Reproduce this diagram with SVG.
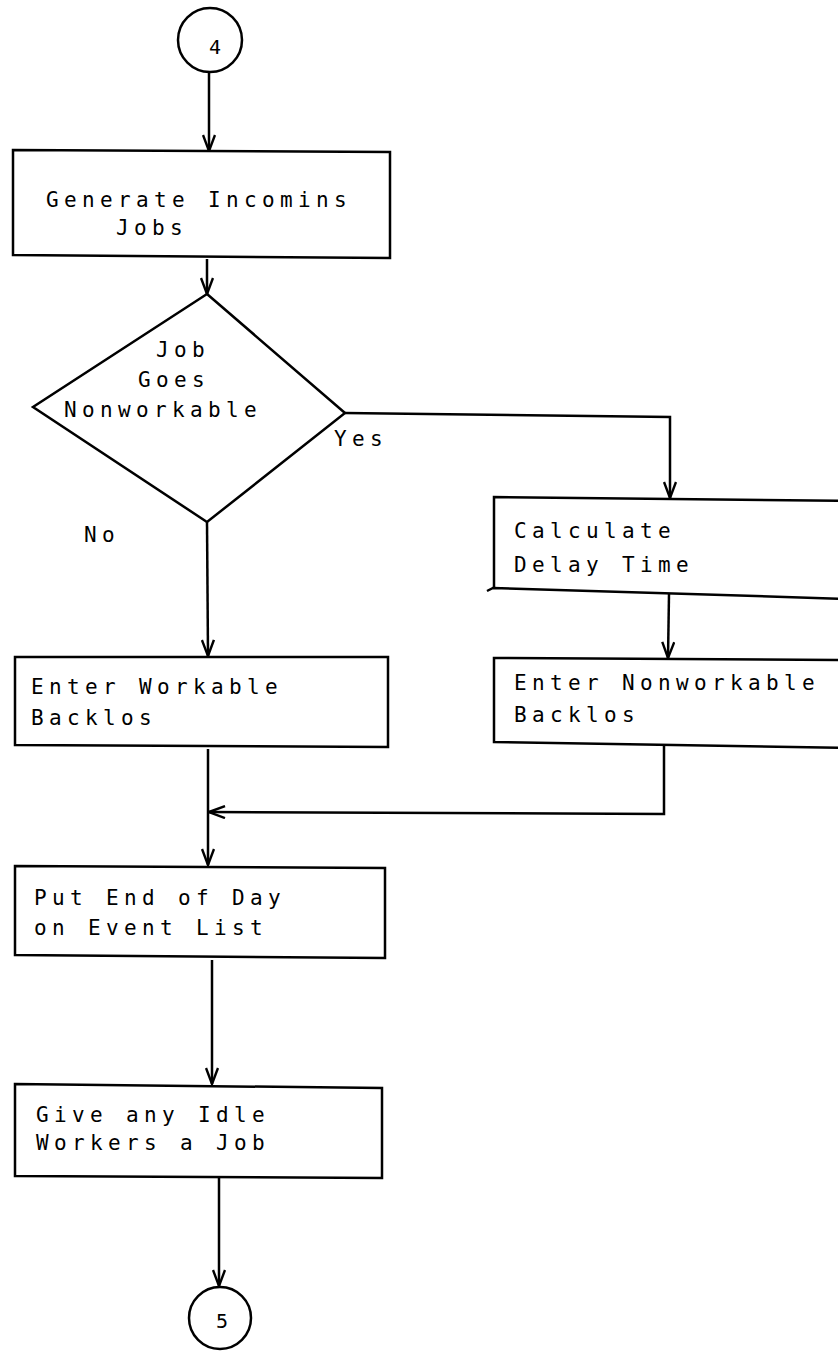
<svg xmlns="http://www.w3.org/2000/svg" width="838" height="1351" viewBox="0 0 838 1351">
  <style>
    .shape { fill: none; stroke: #000; stroke-width: 2.5; stroke-linejoin: miter; }
    .wire { fill: none; stroke: #000; stroke-width: 2.5; }
    .label { font-family: "DejaVu Sans Mono", "Liberation Mono", monospace; font-size: 21px; letter-spacing: 5.35px; fill: #000; }
    .num { font-family: "DejaVu Sans Mono", "Liberation Mono", monospace; font-size: 20px; fill: #000; }
  </style>
  <defs>
    <marker id="open-arrow" viewBox="0 0 18 14" refX="17" refY="7" markerWidth="18" markerHeight="14" markerUnits="userSpaceOnUse" orient="auto">
      <path d="M1,1 L17,7 L1,13" fill="none" stroke="#000" stroke-width="2.4"/>
    </marker>
  </defs>
  <rect width="838" height="1351" fill="#fff"/>

  <!-- connectors -->
  <g id="connectors">
    <path class="wire" d="M209,73 L209,151" marker-end="url(#open-arrow)"/>
    <path class="wire" d="M207,259 L207,294" marker-end="url(#open-arrow)"/>
    <path class="wire" d="M345,413 L670,417 L670,498" marker-end="url(#open-arrow)"/>
    <path class="wire" d="M207,522 L208,656" marker-end="url(#open-arrow)"/>
    <path class="wire" d="M669,594 L668,658" marker-end="url(#open-arrow)"/>
    <path class="wire" d="M664,746 L664,814 L209,812" marker-end="url(#open-arrow)"/>
    <path class="wire" d="M208,749 L208,865" marker-end="url(#open-arrow)"/>
    <path class="wire" d="M212,960 L212,1084" marker-end="url(#open-arrow)"/>
    <path class="wire" d="M219,1178 L219,1286" marker-end="url(#open-arrow)"/>
  </g>

  <!-- connector 4 -->
  <g id="connector-4">
    <circle class="shape" cx="210" cy="40" r="32"/>
    <text class="num" x="209" y="54">4</text>
  </g>

  <g id="generate-jobs">
    <path class="shape" d="M13,150 L390,152 L390,258 L13,255 Z"/>
    <text class="label" x="46" y="207">Generate Incomins</text>
    <text class="label" x="116" y="235">Jobs</text>
  </g>

  <g id="job-goes-nonworkable">
    <path class="shape" d="M207,294 L345,413 L207,522 L33,407 Z"/>
    <text class="label" x="156" y="357">Job</text>
    <text class="label" x="138" y="387">Goes</text>
    <text class="label" x="64" y="417">Nonworkable</text>
  </g>

  <g id="branch-labels">
    <text class="label" x="334" y="446">Yes</text>
    <text class="label" x="84" y="542">No</text>
  </g>

  <g id="calculate-delay">
    <path class="shape" d="M850,501 L494,497 L494,588 M487,591 L493,588 L850,599"/>
    <text class="label" x="514" y="538">Calculate</text>
    <text class="label" x="514" y="572">Delay Time</text>
  </g>

  <g id="enter-workable">
    <path class="shape" d="M15,657 L388,657 L388,747 L15,745 Z"/>
    <text class="label" x="31" y="694">Enter Workable</text>
    <text class="label" x="31" y="725">Backlos</text>
  </g>

  <g id="enter-nonworkable">
    <path class="shape" d="M850,660 L494,658 L494,742 L850,748"/>
    <text class="label" x="514" y="690">Enter Nonworkable</text>
    <text class="label" x="514" y="722">Backlos</text>
  </g>

  <g id="end-of-day">
    <path class="shape" d="M15,866 L385,868 L385,958 L15,955 Z"/>
    <text class="label" x="34" y="905">Put End of Day</text>
    <text class="label" x="34" y="935">on Event List</text>
  </g>

  <g id="idle-workers">
    <path class="shape" d="M15,1084 L382,1088 L382,1178 L15,1176 Z"/>
    <text class="label" x="36" y="1122">Give any Idle</text>
    <text class="label" x="36" y="1150">Workers a Job</text>
  </g>

  <!-- connector 5 -->
  <g id="connector-5">
    <circle class="shape" cx="220" cy="1318" r="31"/>
    <text class="num" x="216" y="1328">5</text>
  </g>
</svg>
